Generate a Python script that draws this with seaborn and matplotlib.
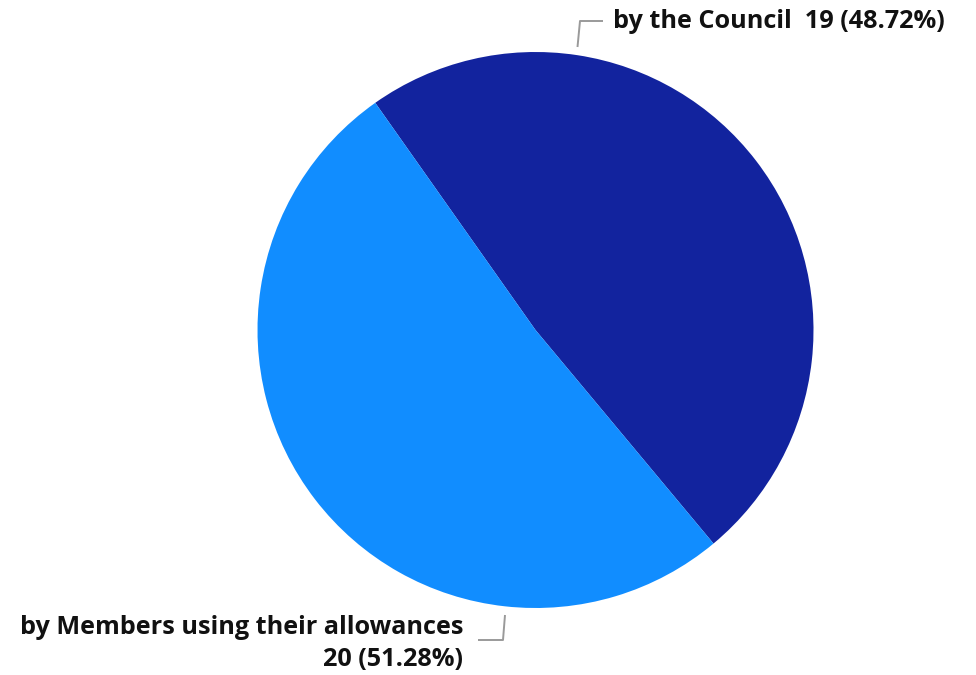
import matplotlib
matplotlib.use("Agg")
import matplotlib.pyplot as plt
import seaborn as sns

# Data
categories = ["by the Council", "by Members using their allowances"]
counts = [19, 20]
colors = ["#12239E", "#118DFF"]

sns.set_theme(style="white")
plt.rcParams["font.family"] = ["Open Sans", "DejaVu Sans"]

W, H = 976, 675
fig = plt.figure(figsize=(W / 100, H / 100), dpi=100)
ax = fig.add_axes([0, 0, 1, 1])

cx, cy, r = 535.5, H - 330, 278
ax.pie(counts, colors=colors, startangle=125.2, counterclock=False,
       center=(cx, cy), radius=r, frame=True,
       wedgeprops=dict(linewidth=0))
ax.set_xlim(0, W)
ax.set_ylim(0, H)
ax.set_aspect("equal")
ax.axis("off")

total = sum(counts)
pcts = [c / total * 100 for c in counts]

label_kw = dict(fontsize=18.2, fontweight="bold", color="#111111")
line_kw = dict(color="#9a9a9a", lw=1.4, solid_capstyle="butt")

# Council label
ax.plot([577.5, 580, 603], [H - 47, H - 21, H - 21], **line_kw)
ax.text(613, H - 21, f"{categories[0]}  {counts[0]} ({pcts[0]:.2f}%)",
        ha="left", va="center", **label_kw)

# Members label
ax.plot([505, 503, 478], [H - 615, H - 640, H - 640], **line_kw)
ax.text(463, H - 627, categories[1], ha="right", va="center", **label_kw)
ax.text(463, H - 660, f"{counts[1]} ({pcts[1]:.2f}%)", ha="right", va="center",
        **label_kw)

fig.savefig("out.png", dpi=100, facecolor="white")
